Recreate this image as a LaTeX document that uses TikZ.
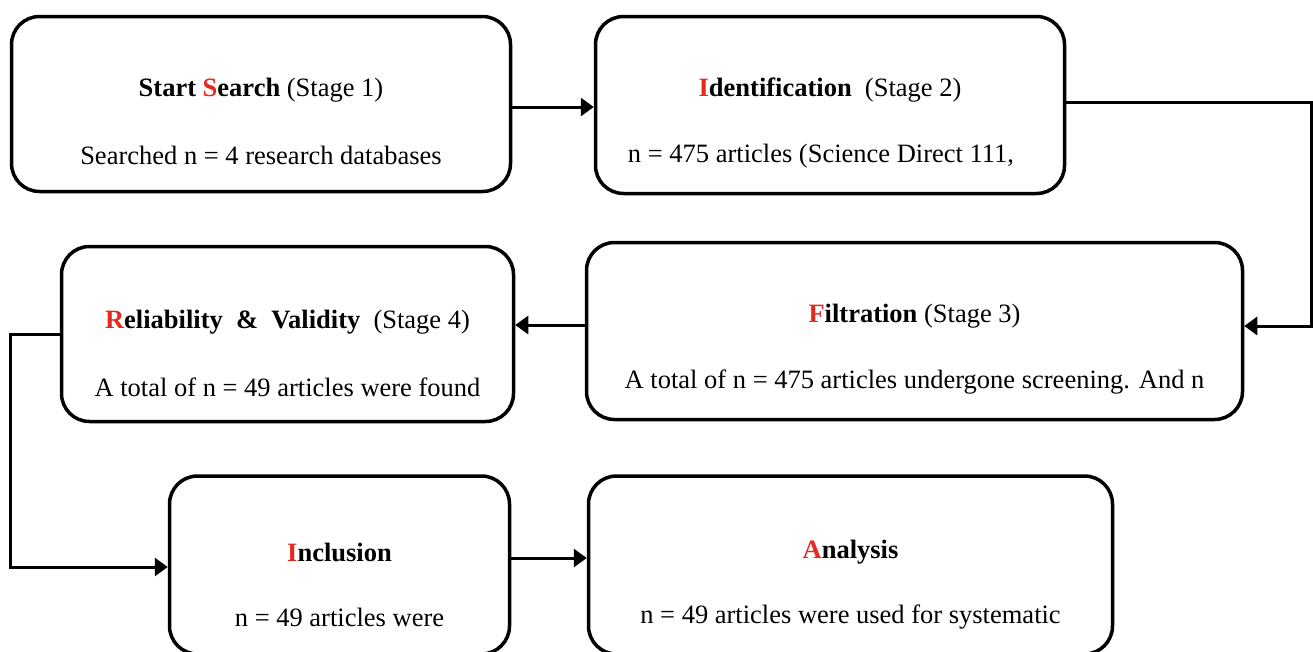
\documentclass[tikz,border=0pt]{standalone}
\usepackage{fontspec}
\setmainfont{Liberation Serif}
\usepackage{tikz}
\usetikzlibrary{arrows.meta, calc}
\usepackage{xcolor}
\definecolor{initred}{RGB}{230,40,30}
\newcommand{\redinit}[1]{\textcolor{initred}{#1}}
\tikzset{
    stagebox/.style={draw=black, line width=3.5pt, rounded corners=28pt, fill=white},
    flow/.style={draw=black, line width=3pt, -{Triangle[length=13pt,width=18pt]}},
    heading/.style={font=\fontsize{26.5}{30}\selectfont, inner sep=0pt},
    detail/.style={font=\fontsize{26.5}{30}\selectfont, inner sep=0pt}
}

\begin{document}
\begin{tikzpicture}[x=1pt, y=-1pt]
    \useasboundingbox (0,0) rectangle (1313,651);
    % stages
    \node[stagebox, minimum width=499pt, minimum height=175pt] (b1) at (261,104) {};
    \node[stagebox, minimum width=469pt, minimum height=177pt] (b2) at (830,105) {};
    \node[stagebox, minimum width=656pt, minimum height=177pt] (b3) at (914.5,331) {};
    \node[stagebox, minimum width=452pt, minimum height=175pt] (b4) at (287.5,334) {};
    \node[stagebox, minimum width=340pt, minimum height=178pt] (b5) at (339.5,565) {};
    \node[stagebox, minimum width=524pt, minimum height=178pt] (b6) at (850.5,565) {};

    \node[heading] (t1) at ([yshift=14pt]b1.center) {\textbf{Start \redinit{S}earch} (Stage 1)};
    \node[detail] (d1) at ([yshift=-51pt]b1.center) {Searched n = 4 research databases};
    \node[heading] (t2) at ([yshift=15pt]b2.center) {\textbf{\redinit{I}dentification} \ (Stage 2)};
    \node[detail] (d2) at ([xshift=-9pt, yshift=-51pt]b2.center) {n = 475 articles (Science Direct 111,};
    \node[heading] (t3) at ([yshift=15pt]b3.center) {\textbf{\redinit{F}iltration} (Stage 3)};
    \node[detail] (d3) at ([yshift=-51pt]b3.center) {A total of n = 475 articles undergone screening. And n};
    \node[heading] (t4) at ([yshift=12pt]b4.center) {\textbf{\redinit{R}eliability \ \& \ Validity} \ (Stage 4)};
    \node[detail] (d4) at ([yshift=-53pt]b4.center) {A total of n = 49 articles were found};
    \node[heading] (t5) at ([yshift=13pt]b5.center) {\textbf{\redinit{I}nclusion}};
    \node[detail] (d5) at ([yshift=-52pt]b5.center) {n = 49 articles were};
    \node[heading] (t6) at ([yshift=13pt]b6.center) {\textbf{\redinit{A}nalysis}};
    \node[detail] (d6) at ([yshift=-52pt]b6.center) {n = 49 articles were used for systematic};

    % connectors
    \coordinate (rx) at (1311,0);
    \coordinate (lx) at (10,0);
    \coordinate (o1) at ([yshift=-3pt]b1.east);
    \coordinate (o2) at ([yshift=3pt]b2.east);
    \coordinate (i3) at ([yshift=5pt]b3.east);
    \coordinate (o3) at ([yshift=6pt]b3.west);
    \coordinate (i5) at ([yshift=-2pt]b5.west);
    \coordinate (o5) at ([yshift=7pt]b5.east);
    \draw[flow] (o1) -- (o1 -| b2.west);
    \draw[flow] (o2) -| (rx |- i3) -- (i3);
    \draw[flow] (o3) -- (o3 -| b4.east);
    \draw[flow] (b4.west) -| (lx |- i5) -- (i5);
    \draw[flow] (o5) -- (o5 -| b6.west);
\end{tikzpicture}
\end{document}
